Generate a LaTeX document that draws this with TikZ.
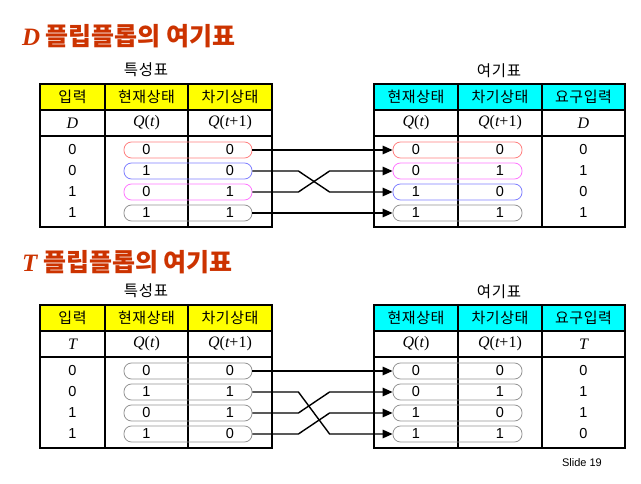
\documentclass[tikz,border=0pt]{standalone}
\usepackage{fontspec}
\setmainfont{Liberation Sans}
\newfontfamily\kr{Noto Sans CJK KR}
\newfontfamily\krs{Noto Sans CJK KR}[LetterSpace=4]
\newfontfamily\tm{Liberation Serif}
\usetikzlibrary{arrows.meta}
\definecolor{ttl}{RGB}{204,51,0}
\definecolor{hy}{RGB}{255,255,0}
\definecolor{hc}{RGB}{0,255,255}
\definecolor{cr}{RGB}{255,130,130}
\definecolor{cb}{RGB}{130,130,255}
\definecolor{cm}{RGB}{255,120,255}
\definecolor{cg}{RGB}{150,150,150}
\newcommand\drawtable[6]{%
  \fill[#6] (#1,#5) rectangle (#4,#5+26);
  \draw[tline] (#1,#5+26) -- (#4,#5+26);
  \draw[tline] (#1,#5+52) -- (#4,#5+52);
  \draw[tline] (#2,#5) -- (#2,#5+143);
  \draw[tline] (#3,#5) -- (#3,#5+143);
  \draw[tline] (#1,#5) rectangle (#4,#5+143);}
\newcommand\qt{{\tm\itshape Q}{\tm(}{\tm\itshape t}{\tm)}}
\newcommand\qtt{{\tm\itshape Q}{\tm(}{\tm\itshape t}{\tm+1)}}
\begin{document}
\begin{tikzpicture}[x=1pt,y=-1pt,
  tline/.style={line width=1.6pt},
  hd/.style={font=\krs\fontsize{15}{18}\selectfont, inner sep=0pt},
  sym/.style={font=\fontsize{16}{18}\selectfont, inner sep=0pt},
  val/.style={font=\fontsize{14.5}{17}\selectfont, inner sep=0pt},
  capsule/.style={draw, rounded corners=7.5pt, minimum width=128pt, minimum height=16pt, inner sep=0pt, line width=0.8pt},
  conn/.style={line width=1.4pt, -{Triangle[length=10pt,width=8.5pt]}},
  ttlf/.style={font=\kr\bfseries\fontsize{25}{29}\selectfont, text=ttl, anchor=west, inner sep=0pt},
  lbl/.style={font=\krs\fontsize{15.5}{18}\selectfont, inner sep=0pt}]
\useasboundingbox[fill=white] (0,0) rectangle (641,484);

% ---------- D flip-flop ----------
\node[ttlf] (dtitle) at (22,36) {{\tm\bfseries\itshape D} 플립플롭의 여기표};
\node[lbl] (dlab1) at (146,70) {특성표};
\node[lbl] (dlab2) at (499,71) {여기표};
\drawtable{40}{105}{188}{272}{84}{hy}
\drawtable{374}{458}{542}{625}{84}{hc}
\node[hd] (dh1) at (72.5,97) {입력};
\node[hd] (dh2) at (146.5,97) {현재상태};
\node[hd] (dh3) at (230,97) {차기상태};
\node[sym] (ds1) at (72.5,123) {{\tm\itshape D}};
\node[sym] (ds2) at (146.5,123) {\qt};
\node[sym] (ds3) at (230,123) {\qtt};
\node[hd] (dh4) at (416,97) {현재상태};
\node[hd] (dh5) at (500,97) {차기상태};
\node[hd] (dh6) at (583.5,97) {요구입력};
\node[sym] (ds4) at (416,123) {\qt};
\node[sym] (ds5) at (500,123) {\qtt};
\node[sym] (ds6) at (583.5,123) {{\tm\itshape D}};
\foreach \i/\a/\b/\c/\col/\y in {1/0/0/0/cr/150,2/0/1/0/cb/171,3/1/0/1/cm/192,4/1/1/1/cg/213}{
  \node[val] (dla\i) at (72.5,\y) {\a};
  \node[capsule,draw=\col] (dl\i) at (188,\y) {};
  \node[val] (dlb\i) at (146.5,\y) {\b};
  \node[val] (dlc\i) at (230,\y) {\c};
}
\foreach \i/\a/\b/\c/\col/\y in {1/0/0/0/cr/150,2/0/1/1/cm/171,3/1/0/0/cb/192,4/1/1/1/cg/213}{
  \node[capsule,draw=\col,minimum width=129pt] (dr\i) at (457.5,\y) {};
  \node[val] (dra\i) at (416,\y) {\a};
  \node[val] (drb\i) at (500,\y) {\b};
  \node[val] (drc\i) at (583.5,\y) {\c};
}
\draw[conn] (dl1.east) -- (dr1.west);
\draw[conn] (dl2.east) -- ++(46,0) -- ([xshift=-63pt]dr3.west) -- (dr3.west);
\draw[conn] (dl3.east) -- ++(46,0) -- ([xshift=-63pt]dr2.west) -- (dr2.west);
\draw[conn] (dl4.east) -- (dr4.west);

% ---------- T flip-flop ----------
\node[ttlf] (ttitle) at (22,262) {{\tm\bfseries\itshape T} 플립플롭의 여기표};
\node[lbl] (tlab1) at (146,291) {특성표};
\node[lbl] (tlab2) at (499,292) {여기표};
\drawtable{40}{105}{188}{272}{305}{hy}
\drawtable{374}{458}{542}{625}{305}{hc}
\node[hd] (th1) at (72.5,318) {입력};
\node[hd] (th2) at (146.5,318) {현재상태};
\node[hd] (th3) at (230,318) {차기상태};
\node[sym] (ts1) at (72.5,344) {{\tm\itshape T}};
\node[sym] (ts2) at (146.5,344) {\qt};
\node[sym] (ts3) at (230,344) {\qtt};
\node[hd] (th4) at (416,318) {현재상태};
\node[hd] (th5) at (500,318) {차기상태};
\node[hd] (th6) at (583.5,318) {요구입력};
\node[sym] (ts4) at (416,344) {\qt};
\node[sym] (ts5) at (500,344) {\qtt};
\node[sym] (ts6) at (583.5,344) {{\tm\itshape T}};
\foreach \i/\a/\b/\c/\y in {1/0/0/0/371,2/0/1/1/392,3/1/0/1/413,4/1/1/0/434}{
  \node[val] (tla\i) at (72.5,\y) {\a};
  \node[capsule,draw=cg] (tl\i) at (188,\y) {};
  \node[val] (tlb\i) at (146.5,\y) {\b};
  \node[val] (tlc\i) at (230,\y) {\c};
}
\foreach \i/\a/\b/\c/\y in {1/0/0/0/371,2/0/1/1/392,3/1/0/1/413,4/1/1/0/434}{
  \node[capsule,draw=cg,minimum width=129pt] (tr\i) at (457.5,\y) {};
  \node[val] (tra\i) at (416,\y) {\a};
  \node[val] (trb\i) at (500,\y) {\b};
  \node[val] (trc\i) at (583.5,\y) {\c};
}
\draw[conn] (tl1.east) -- (tr1.west);
\draw[conn] (tl2.east) -- ++(46,0) -- ([xshift=-63pt]tr4.west) -- (tr4.west);
\draw[conn] (tl3.east) -- ++(46,0) -- ([xshift=-63pt]tr2.west) -- (tr2.west);
\draw[conn] (tl4.east) -- ++(46,0) -- ([xshift=-63pt]tr3.west) -- (tr3.west);

\node[font=\fontsize{11}{13}\selectfont, inner sep=0pt] (slide) at (582,463) {Slide 19};
\end{tikzpicture}
\end{document}
